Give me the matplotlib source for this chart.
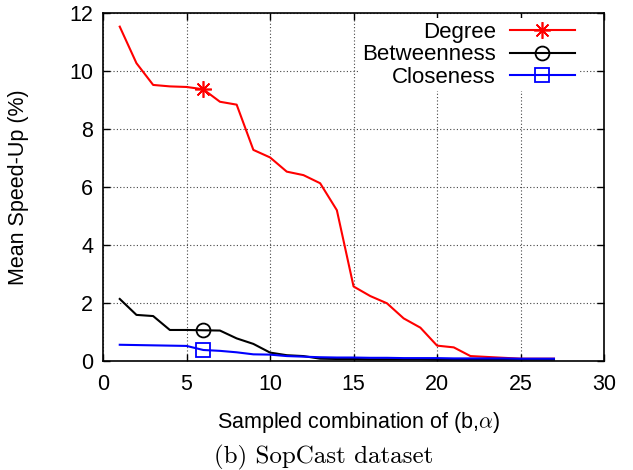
import matplotlib
matplotlib.use("Agg")
import matplotlib.pyplot as plt

# data
combos = list(range(1, 28))
degree = [11.53, 10.27, 9.52, 9.47, 9.45, 9.37, 8.94, 8.84, 7.28, 7.02,
          6.53, 6.41, 6.13, 5.2, 2.57, 2.24, 1.99, 1.47, 1.15, 0.53,
          0.47, 0.17, 0.14, 0.11, 0.08, 0.08, 0.08]
betweenness = [2.14, 1.59, 1.55, 1.07, 1.07, 1.06, 1.05, 0.78, 0.59, 0.29,
               0.2, 0.17, 0.08, 0.07, 0.07, 0.06, 0.06, 0.06, 0.06, 0.05,
               0.05, 0.05, 0.05, 0.05, 0.05, 0.05, 0.05]
closeness = [0.56, 0.55, 0.54, 0.53, 0.52, 0.38, 0.35, 0.3, 0.23, 0.22,
             0.17, 0.15, 0.13, 0.12, 0.12, 0.11, 0.11, 0.1, 0.1, 0.1,
             0.09, 0.09, 0.09, 0.09, 0.08, 0.08, 0.08]
mark_at = [5]  # index of the point that carries a marker (x = 6)

plt.rcParams['font.family'] = ['Liberation Sans', 'DejaVu Sans']
plt.rcParams['mathtext.fontset'] = 'cm'

fs = 15.5
fig = plt.figure(figsize=(6.33, 4.70), dpi=100)
ax = fig.add_axes([0.1628, 0.2319, 0.7915, 0.7404])

ax.plot(combos, degree, color='red', lw=1.5, marker=(8, 2, 0), markevery=mark_at,
        ms=12, mew=1.2, label='Degree')
ax.plot(combos, betweenness, color='black', lw=1.5, marker='o', markevery=mark_at,
        ms=10, mfc='none', mew=1.3, label='Betweenness')
ax.plot(combos, closeness, color='blue', lw=1.5, marker='s', markevery=mark_at,
        ms=10, mfc='none', mew=1.3, label='Closeness')

ax.set_xlim(0, 30)
ax.set_ylim(0, 12)
ax.set_xticks(range(0, 31, 5))
ax.set_yticks(range(0, 13, 2))
ax.tick_params(direction='in', top=True, right=True, labelsize=fs, length=5, width=1)
ax.tick_params(axis='x', pad=9)
ax.tick_params(axis='y', pad=7)
ax.grid(True, linestyle=(0, (1, 2)), color='#444444', lw=0.8)
for s in ax.spines.values():
    s.set_linewidth(1.2)

ax.set_xlabel(r'Sampled combination of (b,$\alpha$)', fontsize=fs)
ax.xaxis.set_label_coords(0.511, -0.14)
ax.set_ylabel('Mean Speed-Up (%)', fontsize=fs)
ax.yaxis.set_label_coords(-0.147, 0.5)

leg = ax.legend(loc='upper right', markerfirst=False, fontsize=16, frameon=True,
                fancybox=False, edgecolor='none', framealpha=1.0,
                handlelength=2.9, handletextpad=0.65, labelspacing=0.08,
                borderpad=0.15, borderaxespad=0.0,
                bbox_to_anchor=(0.948, 0.985))
for t in leg.get_texts():
    t.set_ha('right')

fig.text(0.512, 0.027, '(b) SopCast dataset', ha='center', va='center',
         fontsize=18, family='cmr10')

fig.savefig('out.png', dpi=100)
